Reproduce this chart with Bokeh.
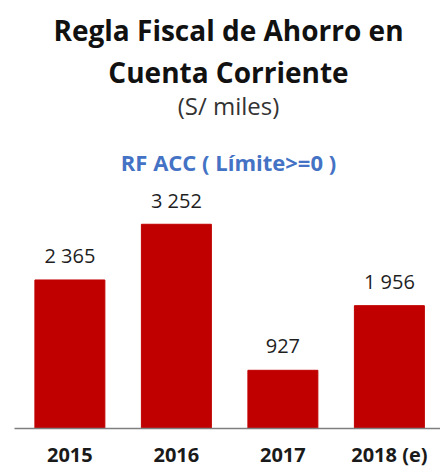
from bokeh.plotting import figure
from bokeh.models import Range1d, FixedTicker, Label, ColumnDataSource
from bokeh.core.properties import value
from bokeh.embed import file_html
from bokeh.resources import INLINE

years = ["2015", "2016", "2017", "2018 (e)"]
values = [2365, 3252, 927, 1956]
labels = ["2 365", "3 252", "927", "1 956"]

title1 = "Regla Fiscal de Ahorro en"
title2 = "Cuenta Corriente"
subtitle = "(S/ miles)"
series_name = "RF ACC ( Límite>=0 )"

FONT = "Open Sans"
pos = list(range(len(years)))
src = ColumnDataSource(dict(x=pos, top=values, lab=labels))

p = figure(width=440, height=470, output_backend="svg", toolbar_location=None,
           x_range=Range1d(-0.52, 3.48), y_range=Range1d(0, 6815),
           min_border_left=14, min_border_right=0, min_border_top=0, min_border_bottom=42)
p.outline_line_color = None
p.background_fill_color = "white"
p.border_fill_color = "white"
p.grid.visible = False
p.yaxis.visible = False

p.vbar(x="x", top="top", bottom=0, width=0.657, source=src,
       fill_color="#C00000", line_color="#C00000")
p.text(x="x", y="top", text="lab", source=src, text_align="center",
       text_baseline="middle", y_offset=-24, text_font_size="20px",
       text_color="#1f1f1f", text_font=value(FONT))

xa = p.xaxis[0]
xa.ticker = FixedTicker(ticks=pos)
xa.major_label_overrides = {i: y for i, y in enumerate(years)}
xa.major_tick_line_color = None
xa.minor_tick_line_color = None
xa.major_tick_out = 0
xa.major_tick_in = 0
xa.minor_tick_out = 0
xa.minor_tick_in = 0
xa.axis_line_color = "#7f7f7f"
xa.axis_line_width = 1.5
xa.major_label_standoff = 12
xa.major_label_text_font = FONT
xa.major_label_text_font_style = "bold"
xa.major_label_text_font_size = "20px"
xa.major_label_text_color = "#1a1a1a"

def add_label(text, ypage, size, style, color):
    p.add_layout(Label(x=214, y=428 - ypage, x_units="screen", y_units="screen",
                       text=text, text_align="center", text_baseline="middle",
                       text_font=FONT, text_font_size=size, text_font_style=style,
                       text_color=color))

add_label(title1, 29, "28px", "bold", "#111111")
add_label(title2, 71, "28px", "bold", "#111111")
add_label(subtitle, 105, "24px", "normal", "#333333")
add_label(series_name, 161, "22px", "bold", "#4472C4")

open("out.html", "w").write(file_html(p, INLINE))
